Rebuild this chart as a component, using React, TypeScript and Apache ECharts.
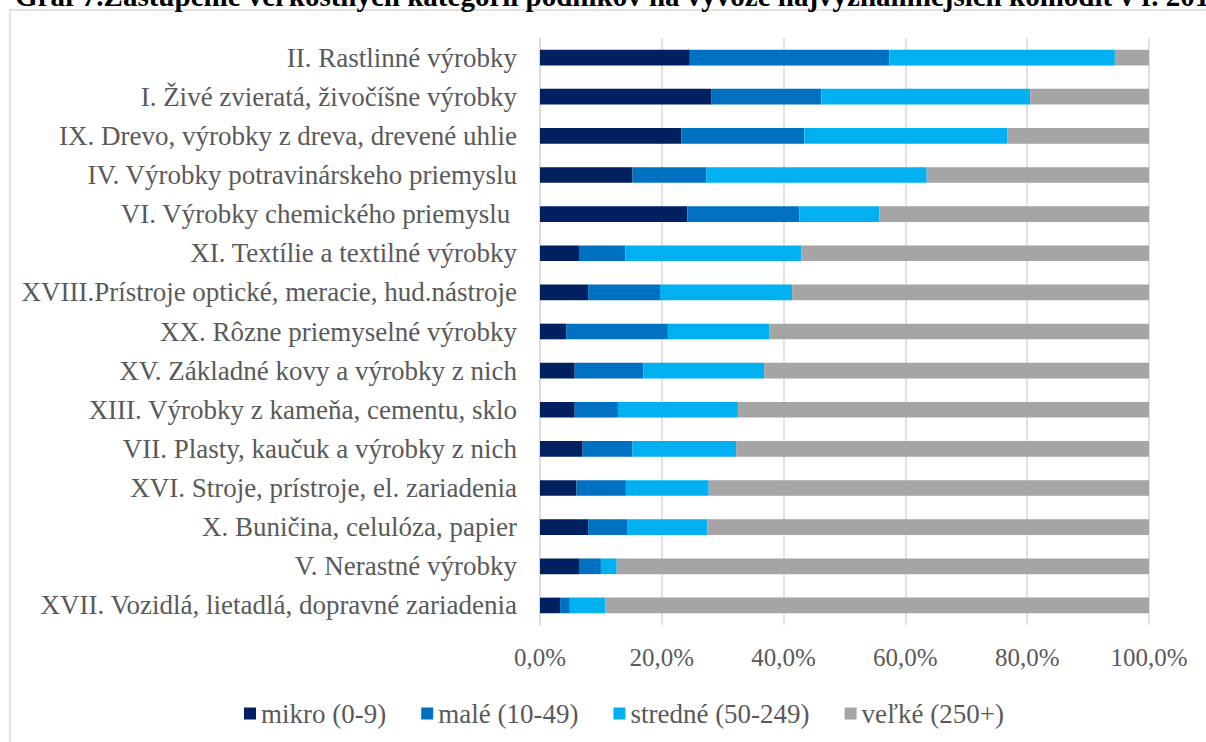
import React, { useEffect, useRef } from "react";
import * as echarts from "echarts";

const categories = [
  "II. Rastlinné výrobky",
  "I. Živé zvieratá, živočíšne výrobky",
  "IX. Drevo, výrobky z dreva, drevené uhlie",
  "IV. Výrobky potravinárskeho priemyslu",
  "VI. Výrobky chemického priemyslu ",
  "XI. Textílie a textilné výrobky",
  "XVIII.Prístroje optické, meracie, hud.nástroje",
  "XX. Rôzne priemyselné výrobky",
  "XV. Základné kovy a výrobky z nich",
  "XIII. Výrobky z kameňa, cementu, sklo",
  "VII. Plasty, kaučuk a výrobky z nich",
  "XVI. Stroje, prístroje, el. zariadenia",
  "X. Buničina, celulóza, papier",
  "V. Nerastné výrobky",
  "XVII. Vozidlá, lietadlá, dopravné zariadenia",
];

const mikro = [24.6, 28.1, 23.2, 15.2, 24.2, 6.4, 7.9, 4.3, 5.7, 5.7, 7.0, 6.0, 7.9, 6.4, 3.3];
const male = [32.8, 18.1, 20.2, 12.1, 18.4, 7.6, 11.8, 16.7, 11.3, 7.1, 8.2, 8.1, 6.5, 3.6, 1.6];
const stredne = [37.0, 34.3, 33.3, 36.2, 13.1, 28.9, 21.7, 16.7, 19.8, 19.7, 17.0, 13.6, 13.1, 2.6, 5.8];
const velke = [5.6, 19.5, 23.3, 36.5, 44.3, 57.1, 58.6, 62.3, 63.2, 67.5, 67.8, 72.3, 72.5, 87.4, 89.3];

const seriesNames = ["mikro (0-9)", "malé (10-49)", "stredné (50-249)", "veľké (250+)"];
const seriesColors = ["#002060", "#0070C0", "#00B0F0", "#A5A5A5"];
const xTicks = [0, 20, 40, 60, 80, 100];

const titleText =
  "Graf 7.Zastúpenie veľkostných kategórií podnikov na vývoze najvýznamnejších komodít v r. 2016";

const FONT = "Liberation Serif";

export default function App() {
  const ref = useRef<HTMLDivElement>(null);

  useEffect(() => {
    if (!ref.current) return;
    const chart = echarts.init(ref.current, undefined, { renderer: "svg" });
    const values = [mikro, male, stredne, velke];
    chart.setOption({
      animation: false,
      backgroundColor: "#ffffff",
      textStyle: { fontFamily: FONT },
      graphic: [
        {
          type: "rect",
          shape: { x: 10, y: 10, width: 1400, height: 900 },
          style: { fill: "none", stroke: "#d9d9d9", lineWidth: 1.5 },
          silent: true,
          z: -10,
        },
        {
          type: "text",
          x: 15,
          y: 10,
          style: {
            text: titleText,
            font: 'bold 29px "Liberation Serif", serif',
            fill: "#000000",
            verticalAlign: "bottom",
          },
          z: 10,
        },
      ],
      legend: {
        data: seriesNames,
        left: 239,
        top: 695,
        itemWidth: 12,
        itemHeight: 12,
        itemGap: 35,
        icon: "rect",
        textStyle: { fontFamily: FONT, fontSize: 27, color: "#595959" },
      },
      grid: { left: 540, right: 57, top: 38, bottom: 117, containLabel: false },
      xAxis: {
        type: "value",
        min: xTicks[0],
        max: xTicks[xTicks.length - 1],
        interval: 20,
        axisLine: { show: false },
        axisTick: { show: false },
        splitLine: { show: true, lineStyle: { color: "#d9d9d9", width: 1.5 } },
        axisLabel: {
          fontFamily: FONT,
          fontSize: 25,
          color: "#595959",
          margin: 20,
          formatter: (v: number) => v.toFixed(1).replace(".", ",") + "%",
        },
      },
      yAxis: {
        type: "category",
        data: categories,
        inverse: true,
        axisLine: { show: true, lineStyle: { color: "#d9d9d9", width: 1.5 } },
        axisTick: { show: false },
        axisLabel: {
          fontFamily: FONT,
          fontSize: 27,
          color: "#595959",
          margin: 23,
        },
      },
      series: seriesNames.map((name, i) => ({
        name,
        type: "bar",
        stack: "total",
        data: values[i],
        barCategoryGap: "60%",
        itemStyle: { color: seriesColors[i] },
      })),
    });
    return () => chart.dispose();
  }, []);

  return (
    <div
      ref={ref}
      style={{ position: "fixed", left: 0, top: 0, width: 1206, height: 742, background: "#fff" }}
    />
  );
}
